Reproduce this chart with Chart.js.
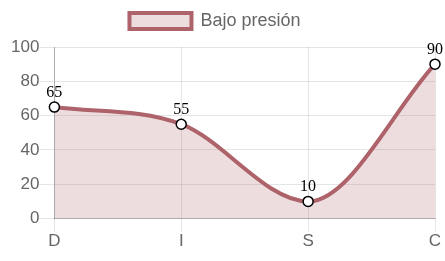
<!DOCTYPE html>
<html>
<head>
<meta charset="utf-8">
<script src="https://cdn.jsdelivr.net/npm/chart.js@4/dist/chart.umd.min.js"></script>
<style>
  html, body { margin: 0; padding: 0; background: #fff; }
  #wrap { width: 445px; height: 261px; }
</style>
</head>
<body>
<div id="wrap"><canvas id="chart" width="445" height="261"></canvas></div>
<script>
const categories = ["D", "I", "S", "C"];
const values = [65, 55, 10, 90];
const seriesName = "Bajo presión";
const yTicks = [0, 20, 40, 60, 80, 100];

const sansFont = "'Liberation Sans', Arial, sans-serif";
const lineColor = "rgb(174, 98, 106)";
const fillColor = "rgba(174, 98, 106, 0.22)";

// draw the value over every point, like the old datalabels look
const valueLabels = {
  id: "valueLabels",
  afterDatasetsDraw(chart) {
    const ctx = chart.ctx;
    const meta = chart.getDatasetMeta(0);
    ctx.save();
    ctx.font = "16px 'Liberation Serif', 'Times New Roman', serif";
    ctx.fillStyle = "#000";
    ctx.textAlign = "center";
    ctx.textBaseline = "alphabetic";
    meta.data.forEach((pt, i) => {
      ctx.fillText(String(values[i]), pt.x, pt.y - 10);
    });
    ctx.restore();
  },
};

// a bit more room under the legend, and nudge it left like the original
const legendTweak = {
  id: "legendTweak",
  beforeInit(chart) {
    const fit = chart.legend.fit;
    chart.legend.fit = function () {
      fit.bind(chart.legend)();
      this.height += 7;
    };
  },
  afterLayout(chart) {
    chart.legend.left -= 8;
    chart.legend.right -= 8;
  },
};

new Chart(document.getElementById("chart"), {
  type: "line",
  data: {
    labels: categories,
    datasets: [
      {
        label: seriesName,
        data: values,
        borderColor: lineColor,
        backgroundColor: fillColor,
        borderWidth: 4,
        fill: true,
        tension: 0.4,
        cubicInterpolationMode: "monotone",
        pointRadius: 5,
        pointBorderWidth: 1.5,
        pointBackgroundColor: "#fff",
        pointBorderColor: "#000",
      },
    ],
  },
  options: {
    responsive: false,
    animation: false,
    layout: { padding: { top: 0, right: 10, left: 11, bottom: 9 } },
    plugins: {
      legend: {
        position: "top",
        labels: {
          color: "#666",
          font: { family: sansFont, size: 18 },
          boxWidth: 62,
          boxHeight: 16,
          padding: 12,
        },
      },
      tooltip: { enabled: false },
    },
    scales: {
      x: {
        grid: { color: "rgba(0,0,0,0.1)", tickLength: 13 },
        border: { color: "rgba(0,0,0,0.25)" },
        ticks: {
          color: "#666",
          font: { family: sansFont, size: 17 },
          padding: 0,
        },
      },
      y: {
        min: 0,
        max: 100,
        afterBuildTicks: (axis) => {
          axis.ticks = yTicks.map((v) => ({ value: v }));
        },
        grid: { color: "rgba(0,0,0,0.1)", tickLength: 15 },
        border: { color: "rgba(0,0,0,0.25)" },
        ticks: {
          color: "#666",
          font: { family: sansFont, size: 17 },
          padding: 0,
        },
      },
    },
  },
  plugins: [valueLabels, legendTweak],
});
</script>
</body>
</html>
